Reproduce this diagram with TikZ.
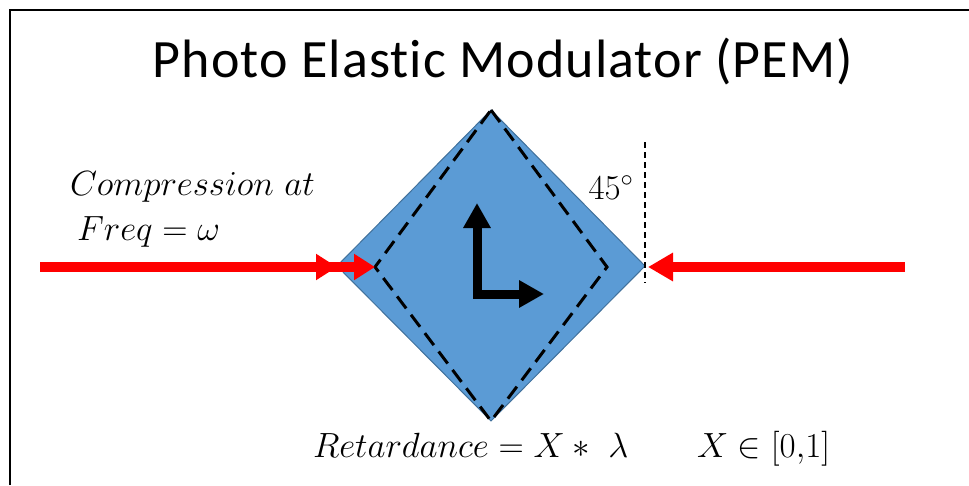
\RequirePackage{fix-cm}
\documentclass[tikz,border=0pt]{standalone}
\usepackage{amsmath,amssymb}
\usepackage{fontspec}
\newfontfamily\titlefont[LetterSpace=2, Ligatures=NoCommon]{Carlito}
\usepackage{xcolor}
\usepackage{tikz}
\usetikzlibrary{arrows.meta,positioning,calc}

\definecolor{pemblue}{HTML}{5B9BD5}
\definecolor{pemedge}{HTML}{41719C}
\newcommand{\mathsize}{\fontsize{35}{42}\selectfont}

\begin{document}
\begin{tikzpicture}[x=1pt, y=-1pt, >=Triangle,
  every node/.style={inner sep=0pt, outer sep=0pt, font=\mathsize}]
  \useasboundingbox (0,0) rectangle (969,485);
  % Frame
  \draw[line width=2.5pt] (10,485) -- (10,10) -- (969,10);

  % Title
  \node[anchor=base, font=\titlefont\fontsize{54}{64}\selectfont] (title) at (503,77) {Photo Elastic Modulator (PEM)};

  % Crystal corners
  \coordinate (top) at (491,110);
  \coordinate (bot) at (491,421);
  \coordinate (left) at (337,266);
  \coordinate (right) at (645,266);
  \coordinate (dleft) at (375,267);
  \coordinate (dright) at (607,267);

  % Crystal and its compressed outline
  \filldraw[fill=pemblue, draw=pemedge, line width=1pt] (top) -- (right) -- (bot) -- (left) -- cycle;
  \draw[line width=3pt, dash pattern=on 15pt off 8pt] (top) -- (dright) -- (bot) -- (dleft) -- cycle;

  % Axes
  \coordinate (ytip) at (477,203);
  \coordinate (xtip) at (544,294);
  \draw[line width=9pt, line join=miter, {Triangle[length=25pt,width=26pt]}-{Triangle[length=25pt,width=26pt]}] (ytip) |- (xtip);

  % Compression arrows
  \coordinate (inL) at (40,267);
  \coordinate (inR) at (905,267);
  \coordinate (hitR) at (648,267);
  \draw[red, line width=10pt, -{Triangle[length=21pt,width=25pt,sep=17pt]Triangle[length=21pt,width=25pt]}] (inL) -- (dleft);
  \draw[red, line width=10pt, -{Triangle[length=25pt,width=27pt]}] (inR) -- (hitR);

  % 45 degree reference
  \coordinate (vtop) at (645,142);
  \coordinate (vbot) at (645,283);
  \draw[line width=1.5pt, dash pattern=on 6pt off 4pt] (vtop) -- (vbot);

  % Labels
  \node[anchor=base west] (compr) at (70,195) {$Compression\ at$};
  \node[anchor=base west] (freq) at (77,240) {$Freq=\omega$};
  \node[anchor=base] (angle) at (611,199) {$45^\circ$};
  \node[anchor=base west] (retard) at (313,457) {$Retardance = X \ast\ \lambda$};
  \node[anchor=base west] (range) at (697,457) {$X \in [0{,}1]$};
\end{tikzpicture}
\end{document}
